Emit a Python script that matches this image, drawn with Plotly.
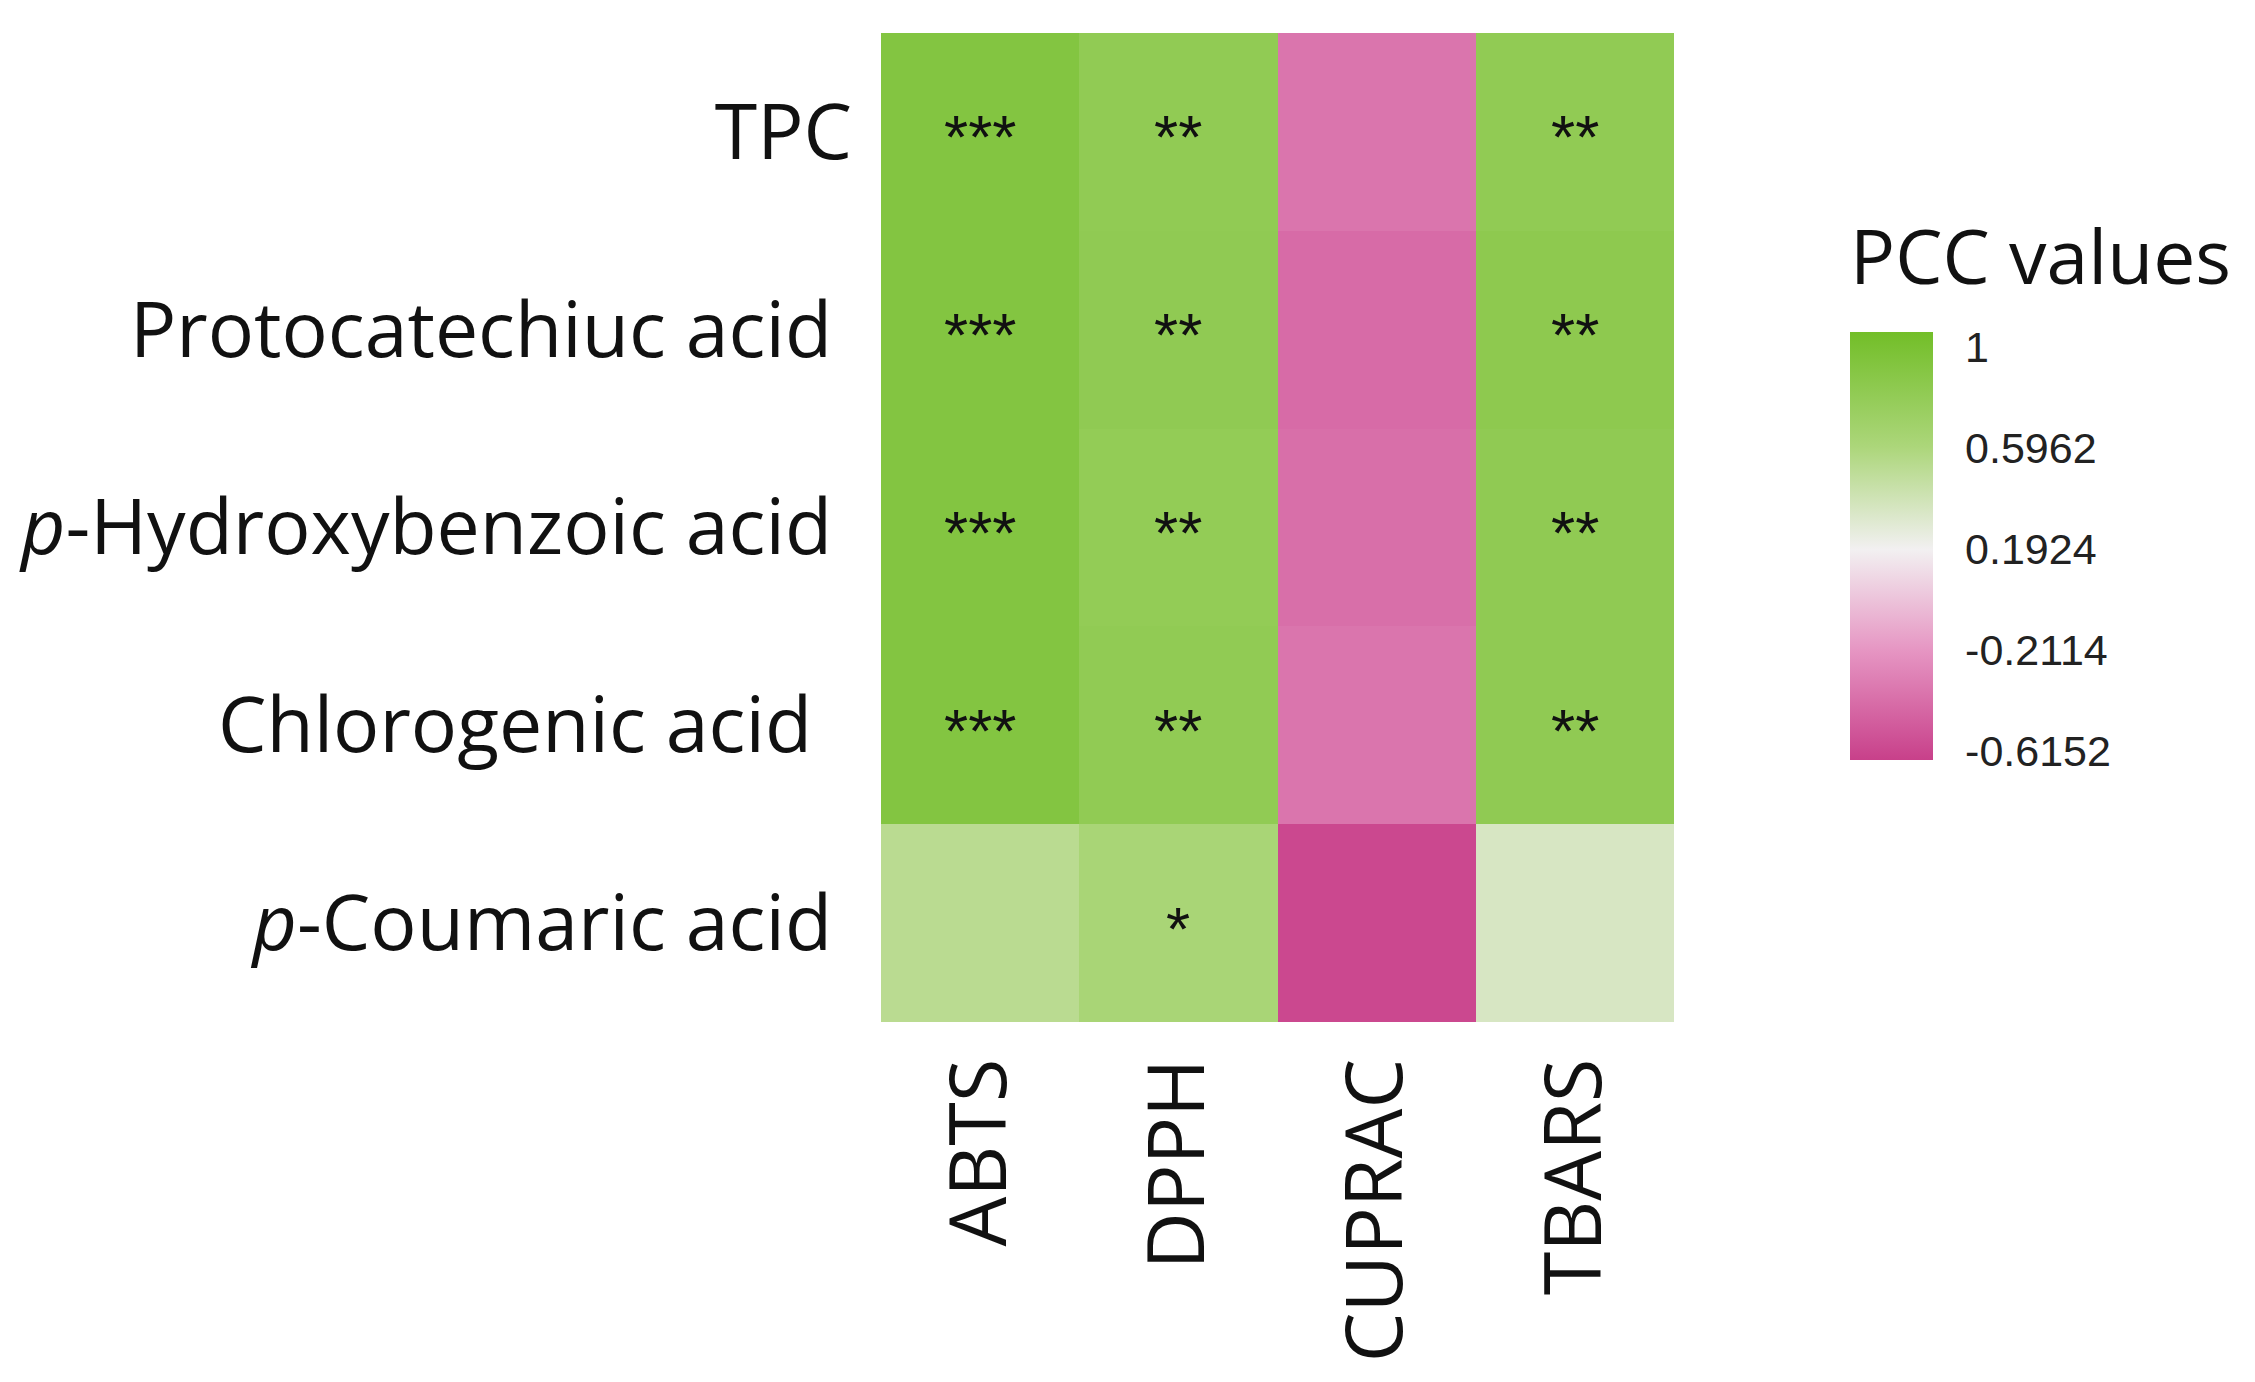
import plotly.graph_objects as go

# ---- data ----
methods = ["ABTS", "DPPH", "CUPRAC", "TBARS"]
compounds = ["TPC", "Protocatechiuc acid ", "<i>p</i>-Hydroxybenzoic acid ",
             "Chlorogenic acid  ", "<i>p</i>-Coumaric acid "]

abts = [0.92, 0.92, 0.92, 0.92, 0.52]
dpph = [0.81, 0.82, 0.80, 0.81, 0.62]
cuprac = [-0.38, -0.43, -0.41, -0.38, -0.61]
tbars = [0.81, 0.84, 0.82, 0.82, 0.35]

sig_abts = ["***", "***", "***", "***", ""]
sig_dpph = ["**", "**", "**", "**", "*"]
sig_cuprac = ["", "", "", "", ""]
sig_tbars = ["**", "**", "**", "**", ""]

cbar_ticks = [1, 0.5962, 0.1924, -0.2114, -0.6152]

zmin, zmax = -0.65, 1.058

# ---- build matrix (rows = compounds, cols = methods) ----
cols = [abts, dpph, cuprac, tbars]
sigs = [sig_abts, sig_dpph, sig_cuprac, sig_tbars]
z = [[cols[j][i] for j in range(len(methods))] for i in range(len(compounds))]

def norm(v):
    return (v - zmin) / (zmax - zmin)

colorscale = [
    [norm(-0.65), "#C8408A"],
    [norm(-0.21), "#E696C3"],
    [norm(0.19), "#F2F0F1"],
    [norm(0.60), "#ACD67A"],
    [norm(1.058), "#72BE28"],
]

fig = go.Figure()
fig.add_trace(go.Heatmap(
    z=z, x=methods, y=compounds,
    zmin=zmin, zmax=zmax,
    colorscale=colorscale,
    hoverinfo="skip",
    colorbar=dict(
        title=dict(text="PCC values", side="top",
                   font=dict(family="Open Sans", size=75, color="#111111")),
        tickvals=cbar_ticks,
        ticktext=[str(t) for t in cbar_ticks],
        tickfont=dict(family="Liberation Sans", size=43, color="#222222"),
        ticks="outside", ticklen=24, tickcolor="white", tickwidth=2,
        thickness=83, thicknessmode="pixels",
        len=535, lenmode="pixels",
        x=1.222, xanchor="left", xpad=0,
        y=0.265, yanchor="bottom", ypad=0,
        outlinewidth=0,
    ),
))

for j, m in enumerate(methods):
    for i, c in enumerate(compounds):
        s = sigs[j][i]
        if s:
            fig.add_annotation(x=m, y=c, text=s, showarrow=False,
                               yshift=-5,
                               font=dict(family="Liberation Sans", size=62, color="#111111"))

fig.update_xaxes(tickangle=-90, tickfont=dict(family="Open Sans", size=79, color="#111111"),
                 showgrid=False, zeroline=False, ticks="", ticklabelstandoff=20)
fig.update_yaxes(autorange="reversed", tickfont=dict(family="Open Sans", size=77, color="#111111"),
                 showgrid=False, zeroline=False, ticks="", ticklabelstandoff=28)

fig.update_layout(
    width=2255, height=1382,
    margin=dict(l=873, r=589, t=25, b=368, pad=0, autoexpand=False),
    plot_bgcolor="white", paper_bgcolor="white",
)

fig.write_html("out.html")
